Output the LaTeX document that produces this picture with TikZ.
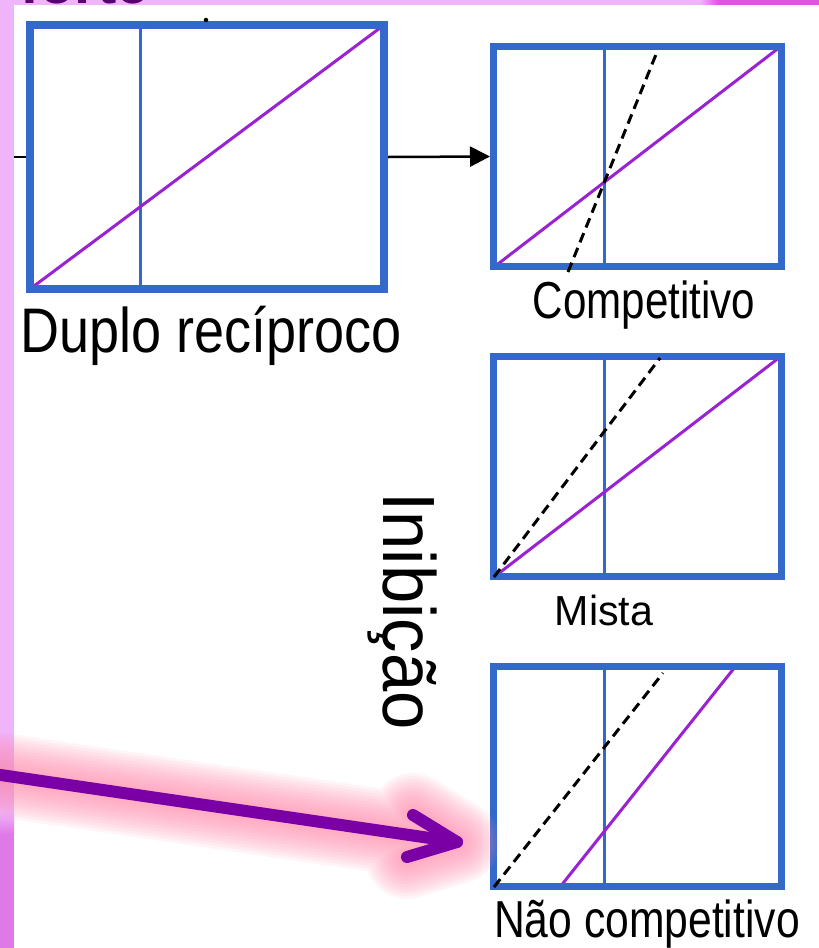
\documentclass[tikz,border=0pt]{standalone}
\usepackage{fontspec}
\setmainfont{Liberation Sans}
\usetikzlibrary{arrows.meta}
\definecolor{boxblue}{RGB}{52,104,204}
\definecolor{curvepurple}{RGB}{153,34,210}
\definecolor{arrowpurple}{RGB}{122,0,166}
\definecolor{glowpink}{RGB}{255,140,175}
\definecolor{pinkbg}{RGB}{240,180,250}
\definecolor{pinkdark}{RGB}{224,121,232}
\definecolor{magentabg}{RGB}{221,85,224}
\definecolor{fortecol}{RGB}{90,0,112}
\tikzset{
  plotbox/.style={draw=boxblue, line width=7pt, inner sep=0pt, minimum width=288pt, minimum height=220pt},
  bigbox/.style={draw=boxblue, line width=8pt, inner sep=0pt, minimum width=354pt, minimum height=264pt},
  axisline/.style={draw=boxblue, line width=3pt},
  curveline/.style={draw=curvepurple, line width=3pt},
  refline/.style={draw=black, line width=3pt, dash pattern=on 10pt off 6pt},
  lbl/.style={inner sep=0pt, text=black, anchor=base},
  glow/.style={draw=glowpink, opacity=0.09, line cap=round, line join=round}
}
\begin{document}
\begin{tikzpicture}[x=1pt,y=-1pt]
\clip (0,0) rectangle (819,948);
\fill[white] (0,0) rectangle (819,948);
% background strips
\fill[pinkbg] (0,0) rectangle (819,5);
\shade[left color=pinkbg, right color=magentabg] (700,0) rectangle (718,5);
\fill[magentabg] (718,0) rectangle (819,5);
\fill[pinkbg] (0,0) rectangle (14,948);
\shade[top color=pinkbg, bottom color=pinkdark] (0,812) rectangle (14,834);
\fill[pinkdark] (0,834) rectangle (14,948);
\node[inner sep=0pt, anchor=base west, text=fortecol, font=\fontsize{58}{60}\selectfont\bfseries] (forte) at (20,3) {forte};
\fill[white] (14,5) rectangle (819,20);

% big box (Duplo reciproco)
\node[bigbox] (big) at (207,157) {};
\draw[axisline] (140,25) -- (140,289);
\draw[curveline] (30,289) -- (384,25);
\node[bigbox] at (207,157) {};
\node[circle, fill=black, inner sep=1.6pt] (dot) at (206,20) {};
\coordinate (stub) at (14,157);
\draw[line width=2.5pt] (stub) -- (big.west);
\node[lbl] (duplo) at (211,352) {\fontsize{63}{70}\selectfont\scalebox{0.857}[1]{Duplo recíproco}};

% Competitivo
\node[plotbox] (comp) at (637.5,156.5) {};
\draw[axisline] (604,46.5) -- (604,266.5);
\draw[curveline] (494,267) -- (780,47);
\node[plotbox] at (637.5,156.5) {};
\draw[refline] (568,272) -- (657,52);
\node[lbl] (complbl) at (644,318) {\fontsize{52}{60}\selectfont\scalebox{0.81}[1]{Competitivo}};

% Mista
\node[plotbox] (mista) at (637.5,466.5) {};
\draw[axisline] (604,356.5) -- (604,576.5);
\draw[curveline] (494,577) -- (780,357);
\node[plotbox] at (637.5,466.5) {};
\draw[refline] (494,577) -- (660,358);
\node[lbl] (mistalbl) at (604,625) {\fontsize{42}{50}\selectfont\scalebox{0.98}[1]{Mista}};

% Nao competitivo
\node[plotbox] (nc) at (637.5,776.5) {};
\draw[axisline] (604,666.5) -- (604,886.5);
\draw[curveline] (560,887) -- (735,667);
\node[plotbox] at (637.5,776.5) {};
\draw[refline] (494,887) -- (663,673);
\node[lbl] (nclbl) at (647,937) {\fontsize{52}{60}\selectfont\scalebox{0.82}[1]{Não competitivo}};

% Inibicao
\node[lbl, rotate=-90] (inib) at (383,611) {\fontsize{74}{80}\selectfont\scalebox{0.93}[1]{Inibição}};

% connector big -> competitivo
\draw[line width=2.5pt, -{Triangle[length=20pt,width=20pt]}] (big.east) -- (comp.west);

% highlighted purple arrow
\coordinate (pa) at (-6,774);
\coordinate (pt) at (457,842);
\coordinate (arm1) at (413,815);
\coordinate (arm2) at (407,857);
\foreach \w in {84,78,72,66,60,54,48,42,36,30,24,18}{
  \draw[glow, line width=\w pt] (pa) -- (pt) (arm1) -- (pt) -- (arm2);
}
\draw[arrowpurple, line width=12pt, line cap=round, line join=round] (pa) -- (pt);
\draw[arrowpurple, line width=12pt, line cap=round, line join=round] (arm1) -- (pt) -- (arm2);
\end{tikzpicture}
\end{document}
